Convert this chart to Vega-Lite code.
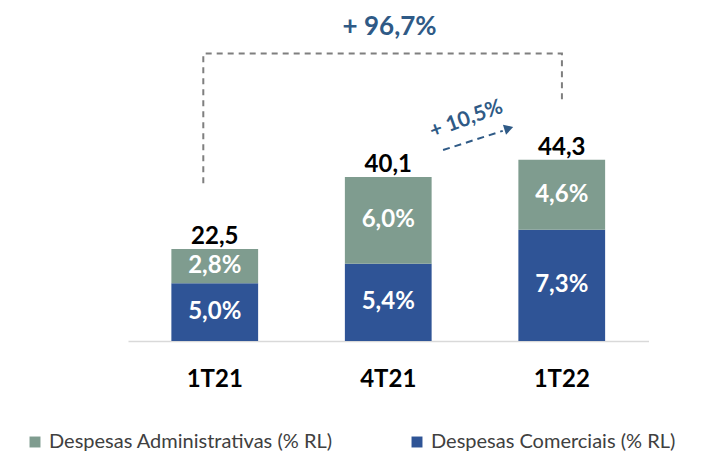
{
  "$schema": "https://vega.github.io/schema/vega-lite/v6.json",
  "width": 520.5,
  "height": 341,
  "autosize": {"type": "none"},
  "padding": {"left": 128, "top": 0, "right": 52.5, "bottom": 115},
  "config": {"view": {"stroke": null}, "font": "Lato"},
  "datasets": {
    "bars": [
      {"q": "1T21", "serie": "Despesas Comerciais (% RL)", "ord": 1, "v": 14.1, "pct": "5,0%", "total": "22,5"},
      {"q": "1T21", "serie": "Despesas Administrativas (% RL)", "ord": 2, "v": 8.4, "pct": "2,8%", "total": "22,5"},
      {"q": "4T21", "serie": "Despesas Comerciais (% RL)", "ord": 1, "v": 18.9, "pct": "5,4%", "total": "40,1"},
      {"q": "4T21", "serie": "Despesas Administrativas (% RL)", "ord": 2, "v": 21.2, "pct": "6,0%", "total": "40,1"},
      {"q": "1T22", "serie": "Despesas Comerciais (% RL)", "ord": 1, "v": 27.2, "pct": "7,3%", "total": "44,3"},
      {"q": "1T22", "serie": "Despesas Administrativas (% RL)", "ord": 2, "v": 17.1, "pct": "4,6%", "total": "44,3"}
    ],
    "bracket": [
      {"ax": 0.434, "ay": 38.6, "o": 1},
      {"ax": 0.434, "ay": 70.3, "o": 2},
      {"ax": 2.501, "ay": 70.3, "o": 3},
      {"ax": 2.501, "ay": 58.2, "o": 4}
    ],
    "arrow": [
      {"ax": 1.816, "ay": 46.7, "ax2": 2.16, "ay2": 51.4}
    ],
    "arrowhead": [
      {"ax": 2.195, "ay": 52.0}
    ],
    "notes": [
      {"ax": 1.508, "ay": 76.8, "label": "+ 96,7%", "size": 26, "ang": 0},
      {"ax": 1.95, "ay": 54.2, "label": "+ 10,5%", "size": 21, "ang": 340}
    ]
  },
  "layer": [
    {
      "data": {"name": "bars"},
      "transform": [
        {"stack": "v", "groupby": ["q"], "sort": [{"field": "ord", "order": "ascending"}], "as": ["y0", "y1"]},
        {"calculate": "(datum.y0 + datum.y1) / 2", "as": "mid"}
      ],
      "layer": [
        {
          "mark": {"type": "bar"},
          "encoding": {
            "x": {"field": "q", "type": "nominal", "sort": ["1T21", "4T21", "1T22"],
              "scale": {"paddingInner": 0.5, "paddingOuter": 0.25},
              "axis": {"title": null, "ticks": false, "domainColor": "#D9D9D9", "domainWidth": 1.5, "labelAngle": 0,
                "labelFontSize": 24, "labelFontWeight": "bold", "labelColor": "#000000", "labelPadding": 26, "labelFont": "Lato"}},
            "y": {"field": "y0", "type": "quantitative", "scale": {"domain": [0, 83.4], "nice": false}, "axis": null},
            "y2": {"field": "y1"},
            "color": {"field": "serie", "type": "nominal",
              "scale": {"domain": ["Despesas Administrativas (% RL)", "Despesas Comerciais (% RL)"], "range": ["#7F9C8F", "#2F5496"]},
              "legend": {"title": null, "orient": "none", "legendX": -103, "legendY": 432, "direction": "horizontal",
                "symbolType": "square", "symbolSize": 120, "symbolStrokeWidth": 0, "labelFontSize": 20, "labelFont": "Lato", "labelColor": "#404040",
                "columnPadding": 74, "labelLimit": 400}}
          }
        },
        {
          "mark": {"type": "text", "color": "#FFFFFF", "fontSize": 24, "fontWeight": "bold", "baseline": "middle"},
          "encoding": {
            "x": {"field": "q", "type": "nominal", "sort": ["1T21", "4T21", "1T22"]},
            "y": {"field": "mid", "type": "quantitative"},
            "text": {"field": "pct"}
          }
        },
        {
          "transform": [{"filter": "datum.ord == 2"}],
          "mark": {"type": "text", "color": "#000000", "fontSize": 24, "fontWeight": "bold", "baseline": "bottom", "dy": 0},
          "encoding": {
            "x": {"field": "q", "type": "nominal", "sort": ["1T21", "4T21", "1T22"]},
            "y": {"field": "y1", "type": "quantitative"},
            "text": {"field": "total"}
          }
        }
      ]
    },
    {
      "data": {"name": "bracket"},
      "mark": {"type": "line", "color": "#7F7F7F", "strokeWidth": 2, "strokeDash": [6, 5]},
      "encoding": {
        "x": {"field": "ax", "type": "quantitative", "scale": {"domain": [0, 3], "nice": false, "zero": false}, "axis": null},
        "y": {"field": "ay", "type": "quantitative"},
        "order": {"field": "o"}
      }
    },
    {
      "data": {"name": "arrow"},
      "mark": {"type": "rule", "color": "#2F5A86", "strokeWidth": 2, "strokeDash": [7, 5]},
      "encoding": {
        "x": {"field": "ax", "type": "quantitative", "scale": {"domain": [0, 3], "nice": false, "zero": false}, "axis": null},
        "y": {"field": "ay", "type": "quantitative"},
        "x2": {"field": "ax2"},
        "y2": {"field": "ay2"}
      }
    },
    {
      "data": {"name": "arrowhead"},
      "mark": {"type": "point", "shape": "triangle-right", "filled": true, "color": "#2F5A86", "size": 110, "angle": 343, "opacity": 1},
      "encoding": {
        "x": {"field": "ax", "type": "quantitative", "scale": {"domain": [0, 3], "nice": false, "zero": false}, "axis": null},
        "y": {"field": "ay", "type": "quantitative"}
      }
    },
    {
      "data": {"name": "notes"},
      "mark": {"type": "text", "color": "#2F5A86", "fontWeight": "bold", "baseline": "middle"},
      "encoding": {
        "x": {"field": "ax", "type": "quantitative", "scale": {"domain": [0, 3], "nice": false, "zero": false}, "axis": null},
        "y": {"field": "ay", "type": "quantitative"},
        "text": {"field": "label"},
        "size": {"field": "size", "type": "quantitative", "scale": null, "legend": null},
        "angle": {"field": "ang", "type": "quantitative", "scale": null, "legend": null}
      }
    }
  ],
  "resolve": {"scale": {"x": "independent"}}
}
